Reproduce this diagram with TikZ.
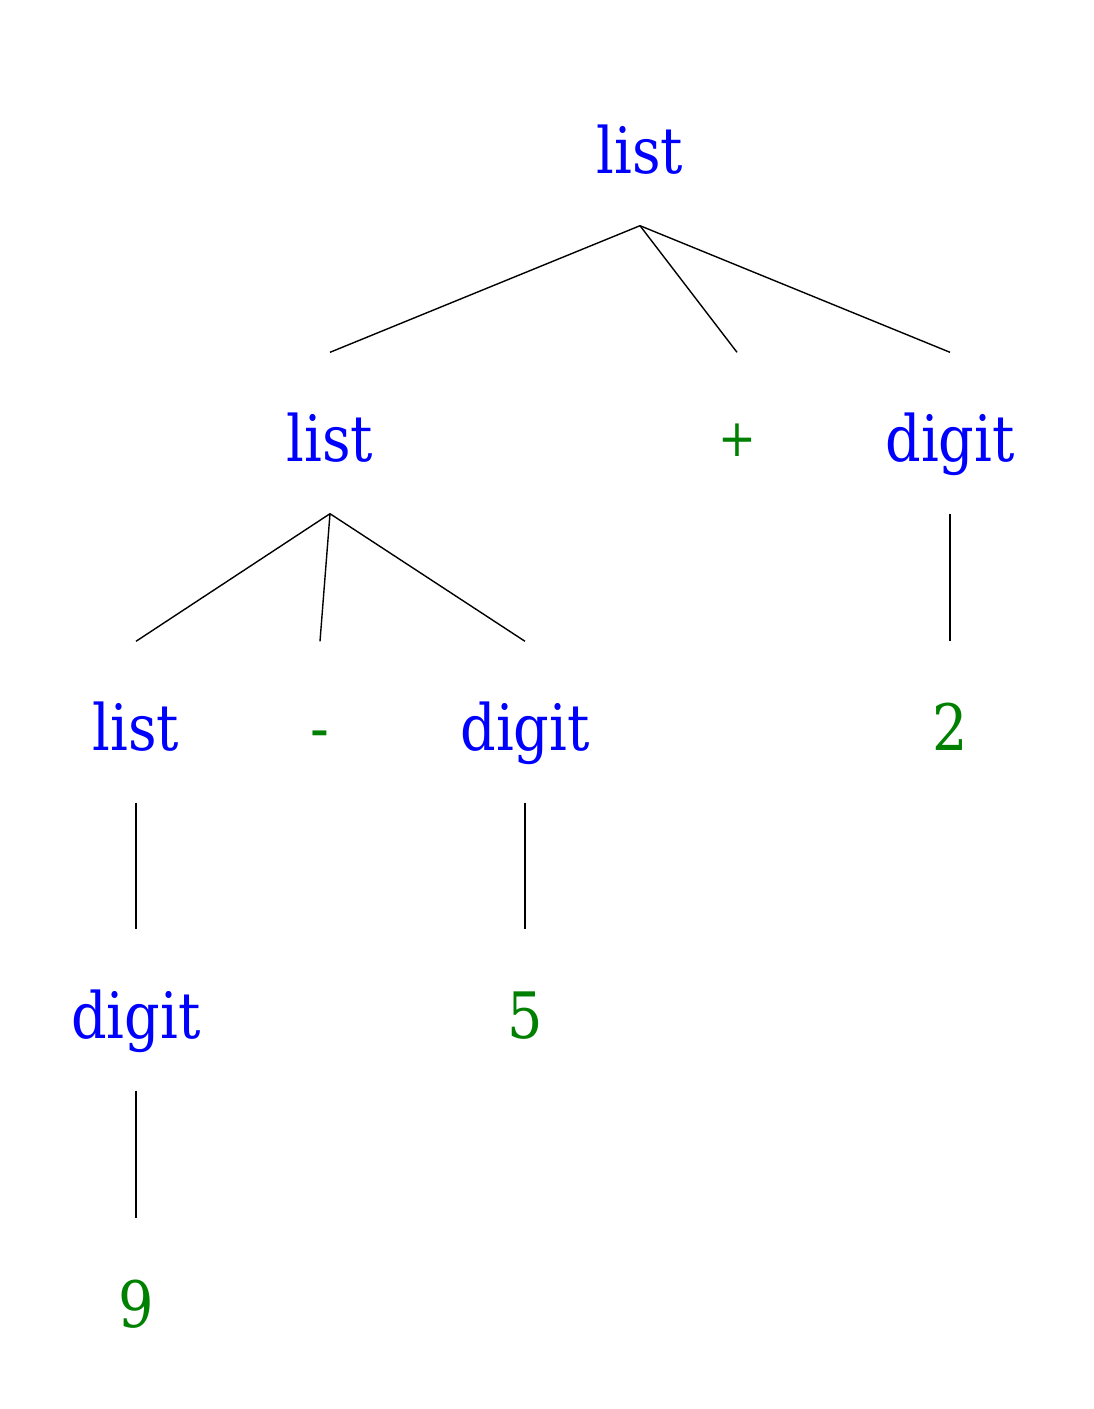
\documentclass[tikz,border=0pt]{standalone}
\usepackage{fontspec}
\setmainfont{DejaVu Serif}[FakeStretch=0.87]
\definecolor{termgreen}{RGB}{0,128,0}
\begin{document}
\begin{tikzpicture}[x=0.5pt, y=-0.5pt, line width=0.7pt,
    sym/.style={anchor=base, inner sep=0pt, text height=54pt, text depth=26pt,
      font=\fontsize{32}{38}\selectfont},
    nonterm/.style={sym, text=blue},
    term/.style={sym, text=termgreen}]
  \useasboundingbox (0,0) rectangle (1093,1409);
  % level 0
  \node[nonterm] (top) at (640,173) {list};
  % level 1
  \node[nonterm] (lst) at (330,461) {list};
  \node[term, text height=51.5pt, font=\fontsize{26}{30}\selectfont] (plus) at (737,456) {+};
  \node[nonterm] (dgtr) at (950,461) {digit};
  % level 2
  \node[nonterm] (lstl) at (136,750) {list};
  \node[term] (minus) at (320,750) {-};
  \node[nonterm] (dgtm) at (525,750) {digit};
  \node[term] (two) at (950,750) {2};
  % level 3
  \node[nonterm] (dgtl) at (136,1038) {digit};
  \node[term] (five) at (525,1038) {5};
  % level 4
  \node[term] (nine) at (136,1327) {9};
  % edges
  \draw (top.south) -- (lst.north);
  \draw (top.south) -- (plus.north);
  \draw (top.south) -- (dgtr.north);
  \draw (lst.south) -- (lstl.north);
  \draw (lst.south) -- (minus.north);
  \draw (lst.south) -- (dgtm.north);
  \draw (dgtr.south) -- (two.north);
  \draw (lstl.south) -- (dgtl.north);
  \draw (dgtm.south) -- (five.north);
  \draw (dgtl.south) -- (nine.north);
\end{tikzpicture}
\end{document}
